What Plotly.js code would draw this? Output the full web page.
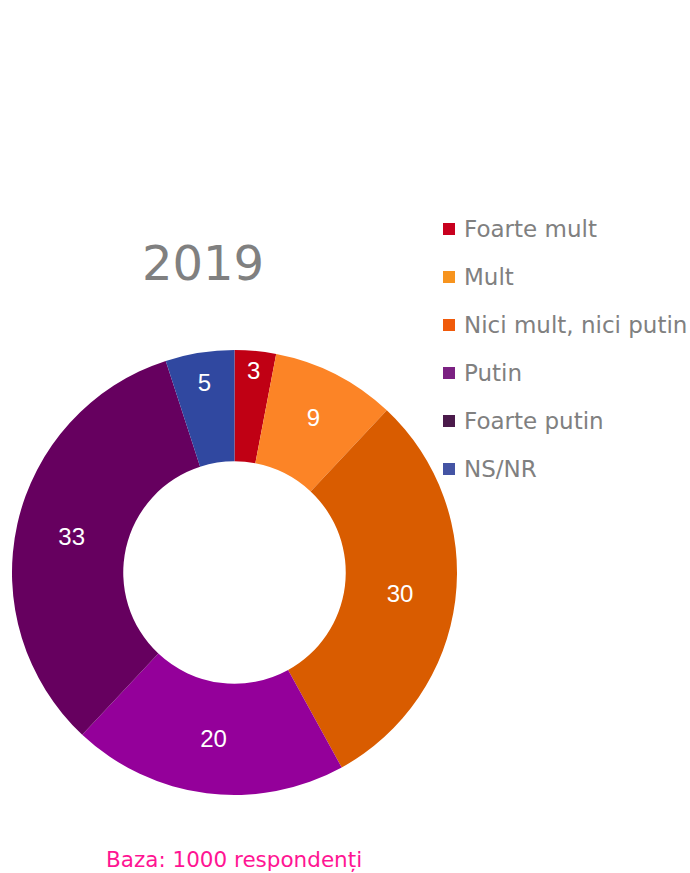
<!DOCTYPE html>
<html>
<head>
<meta charset="utf-8">
<script src="https://cdn.plot.ly/plotly-3.0.1.min.js"></script>
<style>html,body{margin:0;padding:0;background:#fff;}#chart{width:690px;height:873px;}</style>
</head>
<body>
<div id="chart"></div>
<script>
const labels = ["Foarte mult", "Mult", "Nici mult, nici putin", "Putin", "Foarte putin", "NS/NR"];
const values = [3, 9, 30, 20, 33, 5];
const sliceColors = ["#C00014", "#FC8426", "#D95C00", "#94009A", "#66005F", "#3048A0"];
const legendColors = ["#C8001E", "#F7941E", "#F05A0A", "#7B2182", "#4B1A4B", "#4454A4"];
const titleText = "2019";
const baseText = "Baza: 1000 respondenți";

const W = 690, H = 873;
const px = x => x / W;
const py = y => 1 - y / H;

const annotations = [
  {text: titleText, x: px(203), y: py(263), xref: "paper", yref: "paper", xanchor: "center", yanchor: "middle",
   showarrow: false, font: {family: "DejaVu Sans", size: 48, color: "#808080"}},
  {text: baseText, x: px(104), y: py(859), xref: "paper", yref: "paper", xanchor: "left", yanchor: "middle",
   showarrow: false, font: {family: "DejaVu Sans", size: 21.5, color: "#FF1493"}}
];
const shapes = [];
labels.forEach((lab, i) => {
  const yc = 229 + 48 * i;
  annotations.push({text: lab, x: px(462), y: py(yc), xref: "paper", yref: "paper", xanchor: "left", yanchor: "middle",
    showarrow: false, font: {family: "DejaVu Sans", size: 23, color: "#808080"}});
  shapes.push({type: "rect", xref: "paper", yref: "paper", x0: px(443), x1: px(455), y0: py(yc + 6), y1: py(yc - 6),
    fillcolor: legendColors[i], line: {width: 0}});
});

const data = [{
  type: "pie",
  labels: labels,
  values: values,
  hole: 0.5,
  sort: false,
  direction: "clockwise",
  rotation: 0,
  marker: {colors: sliceColors, line: {width: 0}},
  textinfo: "value",
  textposition: "inside",
  insidetextorientation: "horizontal",
  textfont: {family: "Liberation Sans, Arial", size: 24, color: "#FFFFFF"},
  domain: {x: [px(12), px(457)], y: [py(795), py(350)]},
  showlegend: false,
  hoverinfo: "label+value"
}];

const layout = {
  width: W, height: H,
  margin: {l: 0, r: 0, t: 0, b: 0},
  paper_bgcolor: "#FFFFFF",
  plot_bgcolor: "#FFFFFF",
  showlegend: false,
  annotations: annotations,
  shapes: shapes
};

Plotly.newPlot("chart", data, layout, {displayModeBar: false, staticPlot: true});
</script>
</body>
</html>
